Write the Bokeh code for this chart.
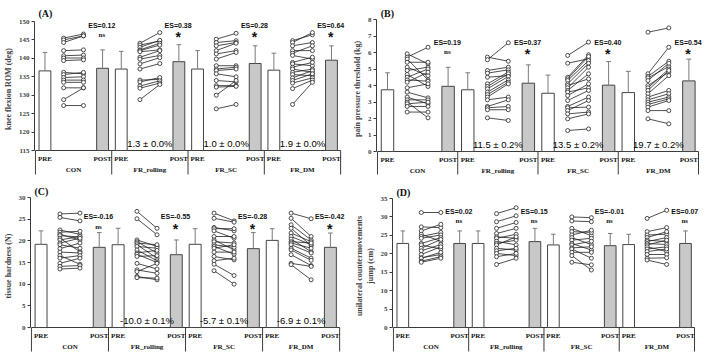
from bokeh.plotting import figure
from bokeh.layouts import row, column
from bokeh.models import Range1d, FixedTicker
from bokeh.core.properties import value
from bokeh.embed import file_html
from bokeh.resources import INLINE

GROUPS = ["CON", "FR_rolling", "FR_SC", "FR_DM"]
PHASES = ["PRE", "POST"]

# ---------------- (A) knee flexion ROM ----------------
A_TICKS = [115, 120, 125, 130, 135, 140, 145, 150]
A_PRE_MEAN = [136.6, 137.1, 137.1, 136.8]
A_PRE_SD = [5.0, 4.8, 5.0, 4.6]
A_POST_MEAN = [137.3, 139.1, 138.6, 139.5]
A_POST_SD = [5.0, 4.6, 4.8, 3.9]
A_PRE_PTS = [
    [145.5, 145.0, 144.3, 142.1, 140.7, 140.1, 139.4, 136.2, 135.6, 134.8, 134.1, 133.5, 132.0, 128.8, 127.2],
    [144.1, 143.6, 143.0, 142.3, 142.1, 141.8, 140.3, 139.8, 138.5, 137.1, 134.1, 133.6, 132.5, 131.9, 128.8],
    [145.2, 144.3, 143.4, 142.1, 141.2, 139.8, 138.0, 137.1, 136.7, 135.8, 134.0, 132.6, 132.2, 130.0, 126.3],
    [144.8, 144.3, 143.4, 142.1, 141.4, 140.8, 138.9, 138.5, 137.6, 137.1, 136.2, 135.6, 134.7, 134.0, 133.3, 131.8, 127.5],
]
A_POST_PTS = [
    [146.6, 146.1, 146.1, 142.3, 140.9, 140.1, 139.6, 135.8, 136.2, 135.0, 134.1, 133.5, 132.0, 132.0, 127.2],
    [147.0, 144.7, 144.9, 144.1, 143.6, 142.3, 142.1, 140.8, 140.2, 138.6, 134.3, 134.8, 133.9, 133.3, 132.9],
    [146.8, 144.8, 144.3, 144.1, 142.1, 141.6, 138.0, 137.6, 137.1, 135.0, 133.6, 132.6, 132.4, 134.0, 127.5],
    [146.4, 147.0, 144.3, 142.1, 143.4, 139.8, 140.3, 138.0, 138.9, 136.2, 137.1, 135.3, 136.7, 135.8, 134.7, 134.1, 133.5],
]
A_ES = ["ES=0.12", "ES=0.38", "ES=0.28", "ES=0.64"]
A_SIG = ["ns", "*", "*", "*"]
A_PCT = ["", "1.3 \u00b1 0.0%", "1.0 \u00b1 0.0%", "1.9 \u00b1 0.0%"]

# ---------------- (B) pain pressure threshold ----------------
B_TICKS = [0, 1, 2, 3, 4, 5, 6, 7, 8]
B_PRE_MEAN = [3.74, 3.74, 3.53, 3.57]
B_PRE_SD = [1.03, 1.03, 1.10, 1.29]
B_POST_MEAN = [3.95, 4.14, 4.02, 4.28]
B_POST_SD = [1.15, 1.11, 1.43, 1.32]
B_PRE_PTS = [
    [5.92, 5.72, 5.60, 5.41, 5.11, 4.91, 4.67, 4.50, 4.34, 4.20, 3.86, 3.60, 3.30, 3.13, 2.99, 2.89, 2.73, 2.39],
    [5.72, 5.56, 4.91, 4.75, 4.50, 4.10, 3.94, 3.80, 3.60, 3.45, 3.30, 3.13, 2.73, 2.65, 2.53, 2.04],
    [5.82, 5.35, 4.50, 4.40, 4.30, 4.10, 4.00, 3.86, 3.70, 3.60, 3.39, 3.09, 2.73, 2.65, 2.48, 2.28, 1.98, 1.27],
    [7.23, 4.71, 4.55, 4.46, 4.30, 4.00, 3.86, 3.70, 3.50, 3.30, 3.13, 2.99, 2.85, 2.69, 2.48, 1.98],
]
B_POST_PTS = [
    [5.31, 6.32, 4.34, 5.41, 4.60, 5.11, 3.94, 5.00, 4.26, 4.81, 4.10, 3.25, 2.89, 3.13, 2.04, 2.99, 2.73, 2.39],
    [5.47, 6.59, 5.11, 4.95, 4.60, 4.81, 4.71, 4.55, 4.34, 4.20, 4.10, 3.30, 3.13, 2.73, 2.53, 1.88],
    [6.63, 5.62, 5.86, 5.76, 5.51, 5.35, 4.40, 5.11, 4.71, 3.86, 4.10, 3.70, 3.30, 2.69, 3.09, 2.39, 2.28, 1.37],
    [7.49, 6.32, 5.47, 5.15, 5.35, 4.81, 5.00, 4.91, 4.60, 3.70, 3.50, 3.30, 3.19, 3.09, 2.48, 1.68],
]
B_ES = ["ES=0.19", "ES=0.37", "ES=0.40", "ES=0.54"]
B_SIG = ["ns", "*", "*", "*"]
B_PCT = ["", "11.5 \u00b1 0.2%", "13.5 \u00b1 0.2%", "19.7 \u00b1 0.2%"]

# ---------------- (C) tissue hardness ----------------
C_TICKS = [0, 5, 10, 15, 20, 25, 30]
C_PRE_MEAN = [19.2, 19.1, 19.2, 20.1]
C_PRE_SD = [3.1, 3.8, 3.6, 2.7]
C_POST_MEAN = [18.5, 16.8, 18.2, 18.5]
C_POST_SD = [3.4, 3.4, 3.7, 3.3]
C_PRE_PTS = [
    [26.2, 25.4, 22.5, 22.0, 21.5, 21.2, 20.6, 20.2, 19.5, 19.1, 18.2, 17.4, 16.6, 16.0, 14.8, 14.1, 13.5],
    [26.8, 25.1, 20.2, 19.8, 19.5, 19.1, 18.7, 17.9, 17.2, 16.9, 16.4, 14.8, 13.3, 12.9, 11.8, 11.5],
    [26.4, 25.2, 23.1, 22.8, 22.3, 21.0, 20.2, 19.8, 19.1, 18.7, 18.3, 17.4, 16.4, 15.4, 14.6, 13.1],
    [26.4, 25.2, 23.7, 22.9, 21.8, 21.0, 20.4, 19.8, 19.5, 19.1, 18.3, 17.9, 16.8, 14.8, 14.5],
]
C_POST_PTS = [
    [26.4, 24.6, 21.5, 22.2, 20.2, 20.9, 17.5, 21.0, 20.6, 18.3, 19.5, 17.2, 14.6, 16.6, 16.0, 14.3, 13.7],
    [22.9, 21.4, 18.7, 17.2, 19.1, 16.0, 18.3, 15.4, 17.8, 15.0, 16.6, 13.5, 12.5, 14.8, 11.0, 11.4],
    [24.6, 24.3, 22.3, 22.8, 20.6, 21.0, 17.9, 19.5, 18.5, 16.9, 19.1, 17.4, 15.6, 16.0, 12.0, 10.0],
    [25.1, 21.0, 20.2, 18.9, 19.8, 19.1, 17.5, 19.5, 18.3, 17.2, 16.0, 15.5, 14.3, 14.1, 11.0],
]
C_ES = ["ES=-0.16", "ES=-0.55", "ES=-0.28", "ES=-0.42"]
C_SIG = ["ns", "*", "*", "*"]
C_PCT = ["", "-10.0 \u00b1 0.1%", "-5.7 \u00b1 0.1%", "-6.9 \u00b1 0.1%"]

# ---------------- (D) unilateral countermovement jump ----------------
D_TICKS = [0, 5, 10, 15, 20, 25, 30, 35]
D_PRE_MEAN = [22.8, 22.8, 22.4, 22.5]
D_PRE_SD = [3.4, 3.4, 2.9, 2.8]
D_POST_MEAN = [22.8, 23.3, 22.2, 22.8]
D_POST_SD = [3.4, 3.6, 3.3, 3.4]
D_PRE_PTS = [
    [31.2, 27.3, 26.2, 25.3, 24.7, 24.2, 22.8, 22.4, 21.5, 20.8, 19.8, 18.9, 18.8, 18.0, 17.7],
    [30.9, 28.7, 26.9, 25.5, 24.6, 24.2, 23.4, 22.8, 22.4, 21.5, 20.8, 20.1, 19.2, 17.1],
    [30.0, 28.9, 26.9, 26.0, 25.1, 24.4, 23.7, 22.8, 22.4, 21.6, 21.3, 20.4, 19.5, 17.7],
    [29.6, 26.0, 25.1, 24.4, 23.7, 23.3, 22.8, 22.4, 21.9, 21.3, 20.6, 19.8, 18.8, 18.3],
]
D_POST_PTS = [
    [31.2, 27.1, 28.0, 23.4, 25.8, 25.1, 24.4, 21.3, 23.9, 22.5, 21.9, 19.8, 20.4, 19.2, 18.8],
    [32.5, 30.3, 28.5, 26.9, 24.2, 25.3, 22.4, 23.7, 24.6, 21.0, 21.5, 19.5, 20.1, 18.8],
    [29.8, 28.7, 24.9, 25.8, 26.4, 22.5, 24.2, 21.0, 23.4, 21.9, 18.8, 20.4, 15.6, 17.0],
    [31.8, 27.1, 25.3, 26.0, 23.3, 24.4, 22.5, 23.7, 20.6, 21.9, 21.3, 19.8, 18.9, 17.1],
]
D_ES = ["ES=0.02", "ES=0.15", "ES=-0.01", "ES=0.07"]
D_SIG = ["ns", "ns", "ns", "ns"]
D_PCT = ["", "", "", ""]

# ---------------- layout ----------------
H = 177
FT, FB = 1, 176
X_PRE, X_L, X_R, X_POST = 0.125, 0.37, 0.63, 0.88
X_ES = 0.87
BAR_W = 0.155
SERIF = value("Liberation Serif")
SANS = value("Liberation Sans")
AX = "#3a3a3a"


def build(letter, ylabel, ticks, pre_m, pre_sd, post_m, post_sd, pre_pts, post_pts,
          es, sig, pct, es_y, sig_y, W, left, right, top, zero, sep, letter_dy):
    ymin, ymax = ticks[0], ticks[-1]
    u = (ymax - ymin) / (zero - top)
    py = lambda px: ymax - (px - top) * u
    x_end = 4.0 * (W - 1 - left) / (right - left)
    p = figure(width=W, height=H, x_range=Range1d(-0.012, x_end),
               y_range=Range1d(py(FB), py(FT)), x_axis_location=None,
               toolbar_location=None, output_backend="svg",
               min_border_left=left, min_border_right=1,
               min_border_top=FT, min_border_bottom=H - FB)
    p.outline_line_color = None
    p.grid.visible = False
    ax = p.yaxis[0]
    ax.bounds = (ymin, ymax)
    ax.ticker = FixedTicker(ticks=ticks)
    ax.minor_tick_line_color = None
    ax.major_tick_out = 3
    ax.major_tick_in = 0
    ax.axis_line_color = AX
    ax.major_tick_line_color = AX
    ax.major_label_text_font = "Liberation Serif"
    ax.major_label_text_font_style = "bold"
    ax.major_label_text_font_size = "7px"
    ax.major_label_standoff = 2
    ax.axis_label = ylabel
    ax.axis_label_text_font = "Liberation Serif"
    ax.axis_label_text_font_style = "bold"
    ax.axis_label_text_font_size = "8px"
    ax.axis_label_standoff = 3

    g = list(range(4))
    # category axis
    p.segment(x0=[0], y0=[ymin], x1=[4], y1=[ymin], line_color=AX, line_width=1)
    p.segment(x0=[0, 1, 2, 3, 4], y0=[ymin] * 5, x1=[0, 1, 2, 3, 4], y1=[py(sep)] * 5,
              line_color=AX, line_width=1)
    ph_x = [i + X_PRE for i in g] + [i + X_POST for i in g]
    ph_t = [PHASES[0]] * 4 + [PHASES[1]] * 4
    p.text(x=ph_x, y=[py(zero + 8)] * 8, text=ph_t, text_font=SERIF, text_font_style="bold",
           text_font_size="7px", text_align="center", text_baseline="middle", text_color="#111")
    p.text(x=[i + 0.5 for i in g], y=[py(zero + 19)] * 4, text=GROUPS, text_font=SERIF,
           text_font_style="bold", text_font_size="7px", text_align="center",
           text_baseline="middle", text_color="#111")

    # bars
    p.vbar(x=[i + X_PRE for i in g], top=pre_m, bottom=ymin, width=BAR_W,
           fill_color="white", line_color="#444", line_width=1)
    p.vbar(x=[i + X_POST for i in g], top=post_m, bottom=ymin, width=BAR_W,
           fill_color="#c8c8c8", line_color="#444", line_width=1)
    # error bars (upper only)
    for xs, m, sd in (([i + X_PRE for i in g], pre_m, pre_sd), ([i + X_POST for i in g], post_m, post_sd)):
        tops = [a + b for a, b in zip(m, sd)]
        p.segment(x0=xs, y0=m, x1=xs, y1=tops, line_color="#7a7a7a", line_width=1)
        p.segment(x0=[x - 0.03 for x in xs], y0=tops, x1=[x + 0.03 for x in xs], y1=tops,
                  line_color="#7a7a7a", line_width=1)

    # paired individual data
    x0, y0, x1, y1 = [], [], [], []
    for i in g:
        for a, b in zip(pre_pts[i], post_pts[i]):
            x0.append(i + X_L); y0.append(a); x1.append(i + X_R); y1.append(b)
    p.segment(x0=x0, y0=y0, x1=x1, y1=y1, line_color="#222", line_width=0.8)
    p.scatter(x=x0 + x1, y=y0 + y1, size=4, marker="circle", fill_color="white",
              line_color="#222", line_width=0.8)

    # annotations
    p.text(x=[i + X_ES for i in g], y=[es_y] * 4, text=es, text_font=SANS, text_font_style="bold",
           text_font_size="7px", text_align="center", text_baseline="middle", text_color="#111")
    ns_i = [i for i in g if sig[i] == "ns"]
    st_i = [i for i in g if sig[i] == "*"]
    if ns_i:
        p.text(x=[i + X_ES for i in ns_i], y=[sig_y] * len(ns_i), text=[sig[i] for i in ns_i],
               text_font=SERIF, text_font_style="bold", text_font_size="7px", text_align="center",
               text_baseline="middle", text_color="#111")
    if st_i:
        p.text(x=[i + X_ES for i in st_i], y=[sig_y] * len(st_i), text=[sig[i] for i in st_i],
               text_font=SANS, text_font_style="bold", text_font_size="14px", text_align="center",
               text_baseline="top", y_offset=-6, text_color="#111")
    pc_i = [i for i in g if pct[i]]
    if pc_i:
        p.text(x=[i + 0.5 for i in pc_i], y=[py(zero - 7)] * len(pc_i), text=[pct[i] for i in pc_i],
               text_font=SANS, text_font_size="9.5px", text_align="center",
               text_baseline="middle", text_color="#000")
    p.text(x=[0.04], y=[py(top - letter_dy)], text=["(%s)" % letter], text_font=SERIF,
           text_font_style="bold", text_font_size="10px", text_align="left",
           text_baseline="middle", text_color="#111")
    return p


pA = build("A", "knee flexion ROM (deg)", A_TICKS, A_PRE_MEAN, A_PRE_SD, A_POST_MEAN, A_POST_SD,
           A_PRE_PTS, A_POST_PTS, A_ES, A_SIG, A_PCT, 148.8, 146.4,
           W=348, left=29, right=340, top=21, zero=150, sep=174, letter_dy=8)
pB = build("B", "pain pressure threshold (kg)", B_TICKS, B_PRE_MEAN, B_PRE_SD, B_POST_MEAN, B_POST_SD,
           B_PRE_PTS, B_POST_PTS, B_ES, B_SIG, B_PCT, 6.6, 6.05,
           W=355, left=28, right=350, top=19, zero=151, sep=174, letter_dy=6)
pC = build("C", "tissue hardness (N)", C_TICKS, C_PRE_MEAN, C_PRE_SD, C_POST_MEAN, C_POST_SD,
           C_PRE_PTS, C_POST_PTS, C_ES, C_SIG, C_PCT, 25.7, 23.2,
           W=348, left=25, right=339, top=20, zero=150, sep=174, letter_dy=6)
pD = build("D", "unilateral countermovements\njump (cm)", D_TICKS, D_PRE_MEAN, D_PRE_SD, D_POST_MEAN,
           D_POST_SD, D_PRE_PTS, D_POST_PTS, D_ES, D_SIG, D_PCT, 31.4, 28.9,
           W=355, left=44, right=346, top=21, zero=150, sep=174, letter_dy=6)

layout = column(row(pA, pB), row(pC, pD))
open("out.html", "w").write(file_html(layout, INLINE))
